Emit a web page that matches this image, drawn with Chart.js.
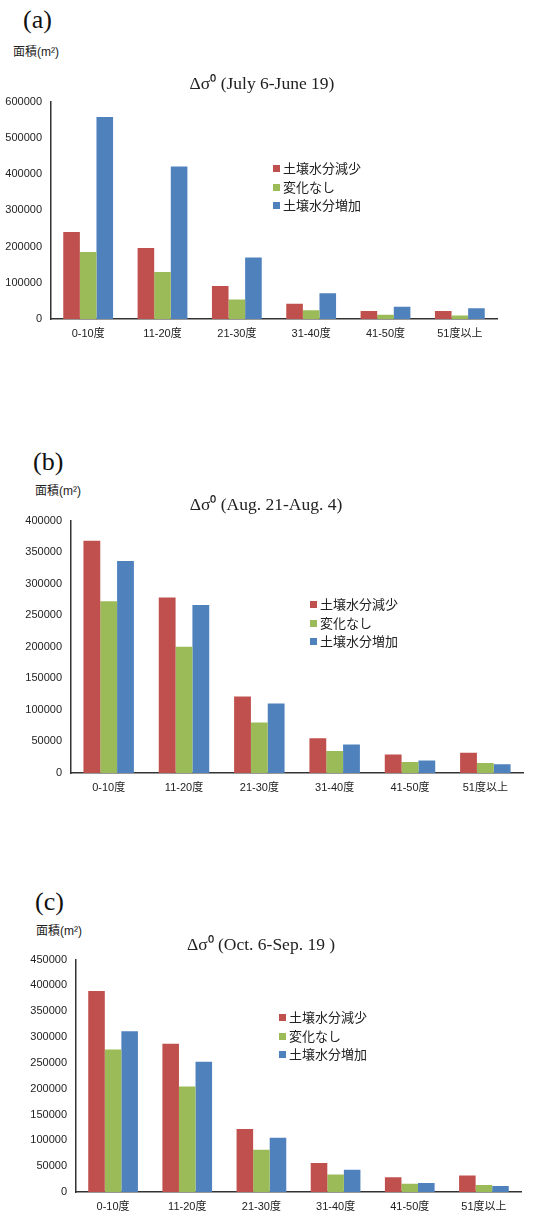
<!DOCTYPE html>
<html>
<head>
<meta charset="utf-8">
<script src="https://cdn.jsdelivr.net/npm/chart.js@4"></script>
<style>
  body { margin: 0; background: #fff; }
  #page { position: relative; width: 534px; height: 1214px; overflow: hidden; }
  .box { position: absolute; left: 0; }
  .panel { position: absolute; font-family: 'Liberation Serif', serif; font-size: 26px; line-height: 30px; color: #111; }
  .unit { position: absolute; font-family: 'Liberation Sans', 'Noto Sans CJK JP', sans-serif; font-size: 12px; line-height: 14px; color: #222; }
  .legend { position: absolute; font-family: 'Noto Sans CJK JP', sans-serif; font-size: 13px; color: #222; }
  .legend div { height: 18.5px; line-height: 18.5px; white-space: nowrap; }
  .legend span { display: inline-block; width: 7px; height: 7px; margin-right: 3px; vertical-align: 1px; }
</style>
</head>
<body>
<div id="page"></div>
<script>
// ---- data ----
const categories = ['0-10度', '11-20度', '21-30度', '31-40度', '41-50度', '51度以上'];
const seriesNames = ['土壌水分減少', '変化なし', '土壌水分増加'];
const seriesColors = ['#c0504d', '#9bbb59', '#4f81bd'];

// (a) Δσ0 (July 6-June 19)
const decreaseA = [240000, 196000, 91000, 42000, 22000, 22000];
const noChangeA = [185000, 130000, 54000, 24000, 12000, 10000];
const increaseA = [557000, 421000, 170000, 71000, 34000, 30000];

// (b) Δσ0 (Aug. 21-Aug. 4)
const decreaseB = [368000, 278000, 121000, 55000, 29500, 32000];
const noChangeB = [272000, 200000, 80000, 35000, 17500, 16000];
const increaseB = [336000, 266000, 110000, 45000, 20000, 14000];

// (c) Δσ0 (Oct. 6-Sep. 19)
const decreaseC = [389000, 287000, 122000, 56000, 28500, 32000];
const noChangeC = [276000, 204000, 82000, 34000, 16000, 13500];
const increaseC = [311000, 252000, 105000, 43000, 17500, 11500];

const yMaxA = 600000, yMaxB = 400000, yMaxC = 450000;
const yStepA = 100000, yStepB = 50000, yStepC = 50000;

// ---- layout of the three panels ----
const panels = [
  { tag: '(a)', title: 'Δσ⁰ (July 6-June 19)', data: [decreaseA, noChangeA, increaseA], yMax: yMaxA, step: yStepA,
    tagPos: [23, 5], unitPos: [13, 45], titleY: 84, titleX: 262, top: 101, bottom: 318, left: 51, right: 497, legend: [273, 159] },
  { tag: '(b)', title: 'Δσ⁰ (Aug. 21-Aug. 4)', data: [decreaseB, noChangeB, increaseB], yMax: yMaxB, step: yStepB,
    tagPos: [33, 447], unitPos: [35, 484], titleY: 505, titleX: 266, top: 520, bottom: 772, left: 71, right: 523, legend: [310, 595] },
  { tag: '(c)', title: 'Δσ⁰ (Oct. 6-Sep. 19 )', data: [decreaseC, noChangeC, increaseC], yMax: yMaxC, step: yStepC,
    tagPos: [35, 887], unitPos: [36, 924], titleY: 945, titleX: 261, top: 959, bottom: 1191, left: 76, right: 521, legend: [279, 1008] }
];

const page = document.getElementById('page');
const TITLE_SIZE = 17.5, TITLE_LH = TITLE_SIZE * 1.2, PAD_TOP = 4, X_AXIS_H = 30;

function addDiv(cls, x, y, html) {
  const d = document.createElement('div');
  d.className = cls;
  d.style.left = x + 'px';
  d.style.top = y + 'px';
  d.innerHTML = html;
  page.appendChild(d);
  return d;
}

// moves the title block so its centre sits at options.titleShift.x
const titleShift = {
  id: 'titleShift',
  afterLayout(chart, args, opts) {
    const t = chart.titleBlock;
    if (!t || opts.x == null) return;
    const half = (t.right - t.left) / 2;
    t.left = opts.x - half;
    t.right = opts.x + half;
  }
};

panels.forEach(p => {
  addDiv('panel', p.tagPos[0], p.tagPos[1], p.tag);
  addDiv('unit', p.unitPos[0], p.unitPos[1], '面積(m²)');

  const canvasTop = p.titleY - TITLE_LH / 2 - PAD_TOP;
  const titleGap = p.top - p.titleY - TITLE_LH / 2;
  const height = Math.round(p.bottom + X_AXIS_H - canvasTop);

  const wrap = document.createElement('div');
  wrap.className = 'box';
  wrap.style.top = canvasTop + 'px';
  const cv = document.createElement('canvas');
  cv.width = 534; cv.height = height;
  wrap.appendChild(cv);
  page.appendChild(wrap);

  new Chart(cv.getContext('2d'), {
    type: 'bar',
    plugins: [titleShift],
    data: {
      labels: categories,
      datasets: seriesNames.map((name, k) => ({
        label: name,
        data: p.data[k],
        backgroundColor: seriesColors[k],
        borderWidth: 0,
        categoryPercentage: 0.67,
        barPercentage: 1.0
      }))
    },
    options: {
      responsive: false,
      animation: false,
      layout: { padding: { top: PAD_TOP, left: 0, right: 534 - p.right, bottom: 0 } },
      plugins: {
        legend: { display: false },
        tooltip: { enabled: false },
        titleShift: { x: p.titleX },
        title: {
          display: true,
          text: p.title,
          color: '#222',
          font: { family: 'Liberation Serif', size: TITLE_SIZE, weight: 'normal', lineHeight: 1.2 },
          padding: { top: 0, bottom: titleGap }
        }
      },
      scales: {
        x: {
          grid: { display: false, drawTicks: false },
          border: { display: true, color: '#333', width: 1.5 },
          ticks: { color: '#222', padding: 8, font: { family: "'Liberation Sans', 'Noto Sans CJK JP'", size: 11 } },
          afterFit: s => { s.height = X_AXIS_H; }
        },
        y: {
          min: 0, max: p.yMax,
          grid: { display: false, drawTicks: false },
          border: { display: true, color: '#333', width: 1.5 },
          ticks: {
            stepSize: p.step, color: '#222', padding: 9,
            font: { family: "'Liberation Sans'", size: 11 },
            callback: v => String(v)
          },
          afterFit: s => { s.width = p.left; }
        }
      }
    }
  });

  const lg = addDiv('legend', p.legend[0], p.legend[1], '');
  seriesNames.forEach((name, k) => {
    const row = document.createElement('div');
    row.innerHTML = '<span style="background:' + seriesColors[k] + '"></span>' + name;
    lg.appendChild(row);
  });
});
</script>
</body>
</html>
